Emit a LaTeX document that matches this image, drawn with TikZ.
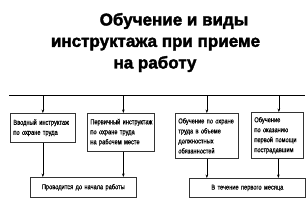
\documentclass[tikz,border=0pt]{standalone}
\usepackage{fontspec}
\setmainfont{Liberation Sans}[BoldFont=Liberation Sans Bold]
\newfontfamily\narrowfont[FakeStretch=0.8,FakeBold=0.6]{Liberation Sans}
\newfontfamily\titlefont[FakeBold=2.2]{Liberation Sans Bold}
\usetikzlibrary{arrows.meta}
\begin{document}
\begin{tikzpicture}[x=1pt,y=1pt,
  ttl/.style={font=\titlefont\fontsize{17}{20}\selectfont, inner sep=0pt},
  box/.style={draw=black!80, line width=0.7pt, anchor=north west, inner xsep=3pt, inner ysep=0pt,
    font=\narrowfont\fontsize{7.1}{10}\selectfont, align=left},
  arr/.style={-{Stealth[length=3.5pt,width=2.6pt]}, line width=0.5pt}]
\useasboundingbox (0,0) rectangle (308,-204);
% title
\node[ttl] (t1) at (174,-21) {Обучение и виды};
\node[ttl] (t2) at (155.5,-44) {инструктажа при приеме};
\node[ttl] (t3) at (155,-64) {на работу};
% main line
\coordinate (L1) at (9,-95.5);
\coordinate (L2) at (305,-95.5);
\draw[line width=1.8pt] (L1) -- (L2);
% boxes
\node[box, text width=59, minimum height=29] (b1) at (10,-113)
  {\mbox{Вводный инструктаж}\\\mbox{по охране труда}};
\node[box, text width=61, minimum height=38] (b2) at (87,-113)
  {\mbox{Первичный инструктаж}\\\mbox{по охране труда}\\\mbox{на рабочем месте}};
\node[box, text width=57, minimum height=45] (b3) at (175,-113)
  {\mbox{Обучение по охране}\\\mbox{труда в объеме}\\\mbox{должностных}\\\mbox{обязанностей}};
\node[box, text width=46, minimum height=46] (b4) at (251,-112)
  {\mbox{Обучение}\\\mbox{по оказанию}\\\mbox{первой помощи}\\\mbox{пострадавшим}};
\node[box, text width=100, minimum height=20, align=center] (b5) at (30,-177)
  {Проводится до начала работы};
\node[box, text width=110, minimum height=19, align=center] (b6) at (189,-178)
  {В течение первого месяца};
% arrows from main line
\draw[arr] (b1.north |- L1) -- (b1.north);
\draw[arr] ([xshift=2.5pt]b2.north |- L1) -- ([xshift=2.5pt]b2.north);
\draw[arr] (b3.north |- L1) -- (b3.north);
\draw[arr] ([xshift=1.5pt]b4.north |- L1) -- ([xshift=1.5pt]b4.north);
% arrows to bottom boxes
\draw[arr] (b1.south) -- (b1.south |- b5.north);
\draw[arr] ([xshift=2.5pt]b2.south) -- ([xshift=2.5pt]b2.south |- b5.north);
\draw[arr] (b3.south) -- (b3.south |- b6.north);
\draw[arr] ([xshift=1pt]b4.south) -- ([xshift=1pt]b4.south |- b6.north);
\end{tikzpicture}
\end{document}
